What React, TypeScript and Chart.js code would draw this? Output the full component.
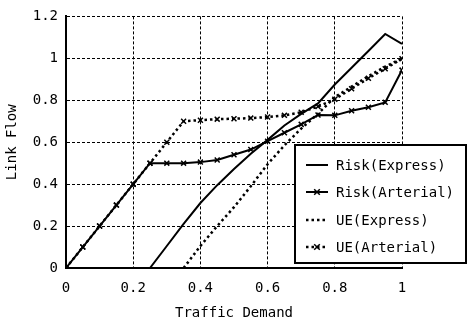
import React, { useEffect, useRef } from "react";
import { Chart, registerables } from "chart.js";

Chart.register(...registerables);

const demand = [0, 0.05, 0.1, 0.15, 0.2, 0.25, 0.3, 0.35, 0.4, 0.45, 0.5, 0.55, 0.6, 0.65, 0.7, 0.75, 0.8, 0.85, 0.9, 0.95, 1.0];
const riskExpress = [0, 0, 0, 0, 0, 0, 0.105, 0.21, 0.31, 0.395, 0.472, 0.545, 0.611, 0.68, 0.735, 0.785, 0.875, 0.955, 1.035, 1.116, 1.069];
const riskArterial = [0, 0.1, 0.2, 0.3, 0.4, 0.5, 0.5, 0.5, 0.505, 0.515, 0.54, 0.565, 0.605, 0.645, 0.685, 0.73, 0.728, 0.75, 0.767, 0.79, 0.944];
const ueExpress = [null, null, null, null, null, null, null, 0, 0.105, 0.2, 0.29, 0.39, 0.495, 0.585, 0.665, 0.735, 0.815, 0.865, 0.915, 0.96, 1.0];
const ueArterial = [0, 0.1, 0.2, 0.3, 0.4, 0.5, 0.6, 0.7, 0.705, 0.71, 0.712, 0.715, 0.72, 0.728, 0.743, 0.77, 0.805, 0.855, 0.905, 0.95, 0.998];
const seriesLabels = ["Risk(Express)", "Risk(Arterial)", "UE(Express)", "UE(Arterial)"];
const xTitle = "Traffic Demand";
const yTitle = "Link Flow";

const FONT = "'DejaVu Sans Mono', monospace";

function toPoints(vals: (number | null)[]) {
  const pts: { x: number; y: number }[] = [];
  vals.forEach((v, i) => {
    if (v !== null) pts.push({ x: demand[i], y: v });
  });
  return pts;
}

const fmt = (v: any) => String(Number(Number(v).toFixed(2)));

const legendPlugin = {
  id: "boxLegend",
  afterDraw(chart: any) {
    const ctx = chart.ctx as CanvasRenderingContext2D;
    const bx = 295, by = 145, bw = 171, bh = 118;
    ctx.save();
    ctx.fillStyle = "#fff";
    ctx.fillRect(bx, by, bw, bh);
    ctx.strokeStyle = "#000";
    ctx.lineWidth = 2;
    ctx.setLineDash([]);
    ctx.strokeRect(bx, by, bw, bh);
    const rows = [165, 192, 220, 247];
    chart.data.datasets.forEach((ds: any, i: number) => {
      const y = rows[i];
      ctx.strokeStyle = "#000";
      ctx.lineWidth = ds.borderWidth;
      ctx.setLineDash(ds.borderDash || []);
      ctx.beginPath();
      ctx.moveTo(306, y);
      ctx.lineTo(328, y);
      ctx.stroke();
      ctx.setLineDash([]);
      if (ds.pointRadius > 0) {
        const r = ds.pointRadius;
        const cx = 317;
        ctx.lineWidth = ds.pointBorderWidth;
        ctx.beginPath();
        ctx.moveTo(cx - r * 0.8, y - r * 0.8);
        ctx.lineTo(cx + r * 0.8, y + r * 0.8);
        ctx.moveTo(cx - r * 0.8, y + r * 0.8);
        ctx.lineTo(cx + r * 0.8, y - r * 0.8);
        ctx.stroke();
      }
      ctx.fillStyle = "#000";
      ctx.font = `14px ${FONT}`;
      ctx.textAlign = "left";
      ctx.textBaseline = "middle";
      ctx.fillText(ds.label, 336, y + 1);
    });
    ctx.restore();
  },
};

export default function App() {
  const ref = useRef<HTMLCanvasElement>(null);
  useEffect(() => {
    if (!ref.current) return;
    const common = {
      borderColor: "#000",
      backgroundColor: "#000",
      tension: 0,
      fill: false,
      pointStyle: "crossRot",
      pointBorderColor: "#000",
      pointBackgroundColor: "#000",
      pointHoverRadius: 0,
    };
    const chart = new Chart(ref.current, {
      type: "line",
      data: {
        datasets: [
          { ...common, label: seriesLabels[0], data: toPoints(riskExpress), borderWidth: 2, borderDash: [], pointRadius: 0, pointBorderWidth: 1.5 },
          { ...common, label: seriesLabels[1], data: toPoints(riskArterial), borderWidth: 2, borderDash: [], pointRadius: 3.5, pointBorderWidth: 1.5 },
          { ...common, label: seriesLabels[2], data: toPoints(ueExpress), borderWidth: 2.5, borderDash: [2.5, 3], pointRadius: 0, pointBorderWidth: 1.5 },
          { ...common, label: seriesLabels[3], data: toPoints(ueArterial), borderWidth: 2.5, borderDash: [2.5, 3], pointRadius: 3.5, pointBorderWidth: 1.5 },
        ],
      },
      options: {
        animation: false,
        responsive: false,
        devicePixelRatio: 1,
        layout: { padding: { left: 0, top: 10, right: 67, bottom: 0 } },
        plugins: { legend: { display: false }, tooltip: { enabled: false } },
        scales: {
          x: {
            type: "linear",
            min: 0,
            max: 1,
            ticks: { stepSize: 0.2, color: "#000", font: { family: FONT, size: 14 }, padding: 12, maxRotation: 0, callback: fmt },
            grid: { color: "#000", lineWidth: 1, drawTicks: false },
            border: { display: true, color: "#000", width: 2, dash: [3, 2] },
            title: { display: true, text: xTitle, color: "#000", font: { family: FONT, size: 14 }, padding: { top: 0, bottom: 6 } },
            afterFit: (s: any) => { s.height = 60; },
          },
          y: {
            type: "linear",
            min: 0,
            max: 1.2,
            ticks: { stepSize: 0.2, color: "#000", font: { family: FONT, size: 14 }, padding: 8, callback: fmt },
            grid: { color: "#000", lineWidth: 1, drawTicks: false },
            border: { display: true, color: "#000", width: 2, dash: [3, 2] },
            title: { display: true, text: yTitle, color: "#000", font: { family: FONT, size: 14 }, padding: { top: 4, bottom: 0 } },
            afterFit: (s: any) => { s.width = 66; },
          },
        },
      },
      plugins: [legendPlugin],
    } as any);
    return () => chart.destroy();
  }, []);
  return (
    <div style={{ position: "fixed", left: 0, top: 0, width: 469, height: 328, background: "#fff" }}>
      <canvas ref={ref} width={469} height={328} style={{ width: 469, height: 328 }} />
    </div>
  );
}
